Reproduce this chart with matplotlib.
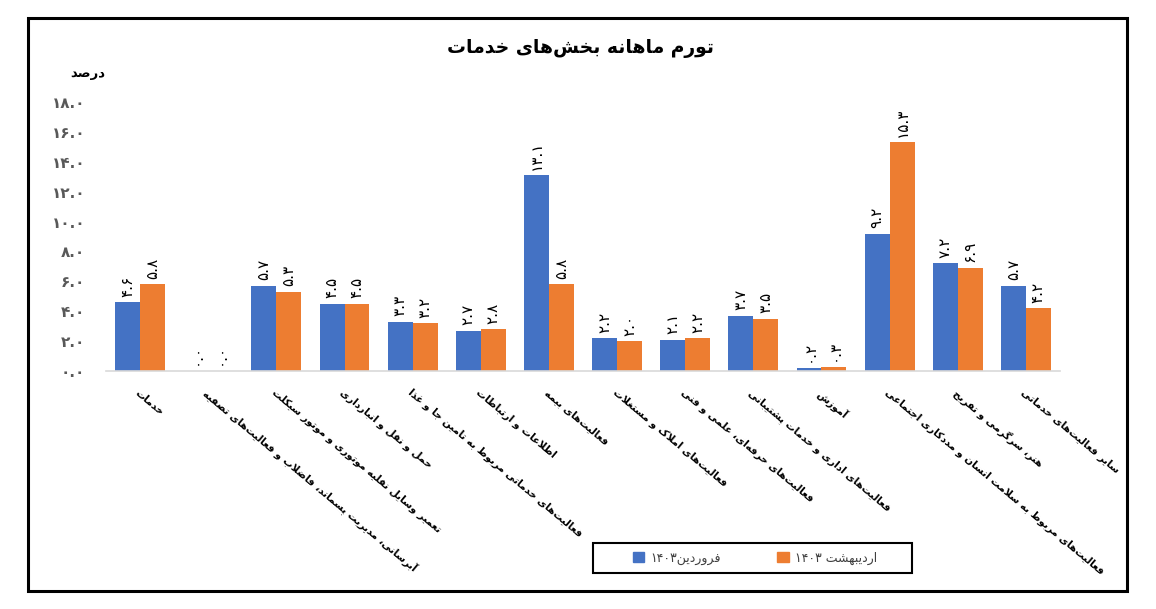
import re
import numpy as np
import matplotlib
matplotlib.use('Agg')
import matplotlib.pyplot as plt
from matplotlib.patches import Rectangle, Patch

# data
categories = [
    'خدمات',
    'آبرسانی، مدیریت پسماند، فاضلاب و فعالیت‌های تصفیه',
    'تعمیر وسایل نقلیه موتوری و موتور سیکلت',
    'حمل و نقل و انبارداری',
    'فعالیت‌های خدماتی مربوط به تامین جا و غذا',
    'اطلاعات و ارتباطات',
    'فعالیت‌های بیمه',
    'فعالیت‌های املاک و مستغلات',
    'فعالیت‌های حرفه‌ای، علمی و فنی',
    'فعالیت‌های اداری و خدمات پشتیبانی',
    'آموزش',
    'فعالیت‌های مربوط به سلامت انسان و مددکاری اجتماعی',
    'هنر، سرگرمی و تفریح',
    'سایر فعالیت‌های خدماتی',
]
farvardin = [4.6, 0.0, 5.7, 4.5, 3.3, 2.7, 13.1, 2.2, 2.1, 3.7, 0.2, 9.2, 7.2, 5.7]
ordibehesht = [5.8, 0.0, 5.3, 4.5, 3.2, 2.8, 5.8, 2.0, 2.2, 3.5, 0.3, 15.3, 6.9, 4.2]
series_names = ['فروردین۱۴۰۳', 'اردیبهشت ۱۴۰۳']
yticks = [0, 2, 4, 6, 8, 10, 12, 14, 16, 18]
title = 'تورم ماهانه بخش‌های خدمات'
unit = 'درصد'

# minimal arabic/persian shaping, matplotlib has no bidi support
FORMS = {
    'ء': (0xFE80, None, None, None),
    'آ': (0xFE81, 0xFE82, None, None),
    'أ': (0xFE83, 0xFE84, None, None),
    'ؤ': (0xFE85, 0xFE86, None, None),
    'إ': (0xFE87, 0xFE88, None, None),
    'ئ': (0xFE89, 0xFE8A, 0xFE8B, 0xFE8C),
    'ا': (0xFE8D, 0xFE8E, None, None),
    'ب': (0xFE8F, 0xFE90, 0xFE91, 0xFE92),
    'پ': (0xFB56, 0xFB57, 0xFB58, 0xFB59),
    'ة': (0xFE93, 0xFE94, None, None),
    'ت': (0xFE95, 0xFE96, 0xFE97, 0xFE98),
    'ث': (0xFE99, 0xFE9A, 0xFE9B, 0xFE9C),
    'ج': (0xFE9D, 0xFE9E, 0xFE9F, 0xFEA0),
    'چ': (0xFB7A, 0xFB7B, 0xFB7C, 0xFB7D),
    'ح': (0xFEA1, 0xFEA2, 0xFEA3, 0xFEA4),
    'خ': (0xFEA5, 0xFEA6, 0xFEA7, 0xFEA8),
    'د': (0xFEA9, 0xFEAA, None, None),
    'ذ': (0xFEAB, 0xFEAC, None, None),
    'ر': (0xFEAD, 0xFEAE, None, None),
    'ز': (0xFEAF, 0xFEB0, None, None),
    'ژ': (0xFB8A, 0xFB8B, None, None),
    'س': (0xFEB1, 0xFEB2, 0xFEB3, 0xFEB4),
    'ش': (0xFEB5, 0xFEB6, 0xFEB7, 0xFEB8),
    'ص': (0xFEB9, 0xFEBA, 0xFEBB, 0xFEBC),
    'ض': (0xFEBD, 0xFEBE, 0xFEBF, 0xFEC0),
    'ط': (0xFEC1, 0xFEC2, 0xFEC3, 0xFEC4),
    'ظ': (0xFEC5, 0xFEC6, 0xFEC7, 0xFEC8),
    'ع': (0xFEC9, 0xFECA, 0xFECB, 0xFECC),
    'غ': (0xFECD, 0xFECE, 0xFECF, 0xFED0),
    'ف': (0xFED1, 0xFED2, 0xFED3, 0xFED4),
    'ق': (0xFED5, 0xFED6, 0xFED7, 0xFED8),
    'ك': (0xFED9, 0xFEDA, 0xFEDB, 0xFEDC),
    'ک': (0xFB8E, 0xFB8F, 0xFB90, 0xFB91),
    'گ': (0xFB92, 0xFB93, 0xFB94, 0xFB95),
    'ل': (0xFEDD, 0xFEDE, 0xFEDF, 0xFEE0),
    'م': (0xFEE1, 0xFEE2, 0xFEE3, 0xFEE4),
    'ن': (0xFEE5, 0xFEE6, 0xFEE7, 0xFEE8),
    'ه': (0xFEE9, 0xFEEA, 0xFEEB, 0xFEEC),
    'و': (0xFEED, 0xFEEE, None, None),
    'ى': (0xFEEF, 0xFEF0, None, None),
    'ي': (0xFEF1, 0xFEF2, 0xFEF3, 0xFEF4),
    'ی': (0xFBFC, 0xFBFD, 0xFBFE, 0xFBFF),
}
LAM_ALEF = {'ا': (0xFEFB, 0xFEFC), 'آ': (0xFEF5, 0xFEF6),
            'أ': (0xFEF7, 0xFEF8), 'إ': (0xFEF9, 0xFEFA)}


def shape(s):
    out = []
    i = 0
    n = len(s)

    def dual(c):
        return c in FORMS and FORMS[c][2] is not None

    while i < n:
        c = s[i]
        if c not in FORMS:
            out.append(c)
            i += 1
            continue
        join_prev = i > 0 and dual(s[i - 1])
        if c == 'ل' and i + 1 < n and s[i + 1] in LAM_ALEF:
            iso, fin = LAM_ALEF[s[i + 1]]
            out.append(chr(fin if join_prev else iso))
            i += 2
            continue
        join_next = dual(c) and i + 1 < n and s[i + 1] in FORMS
        f = FORMS[c]
        if join_prev and join_next:
            g = f[3]
        elif join_prev:
            g = f[1]
        elif join_next:
            g = f[2]
        else:
            g = f[0]
        out.append(chr(g))
        i += 1
    return ''.join(out).replace('\u200c', '')


def fa(s):
    s = shape(s)
    parts = re.findall(r'[0-9\u06F0-\u06F9.]+|[^0-9\u06F0-\u06F9.]+', s)
    vis = []
    for p in reversed(parts):
        if re.match(r'[0-9\u06F0-\u06F9]', p):
            vis.append(p)
        else:
            vis.append(p[::-1])
    return ''.join(vis)


DIG = str.maketrans('0123456789', '۰۱۲۳۴۵۶۷۸۹')


def fnum(v):
    return f'{v:.1f}'.translate(DIG)


plt.rcParams['font.family'] = ['DejaVu Sans']

BLUE = '#4472C4'
ORANGE = '#ED7D31'

fig = plt.figure(figsize=(11.56, 6.09), dpi=100)
W, H = 1156, 609

# outer frame
fig.patches.append(Rectangle((28 / W, 1 - 591 / H), (1127 - 28) / W, (591 - 18) / H,
                             transform=fig.transFigure, fill=False, edgecolor='black', lw=2.2))

ax = fig.add_axes([106 / W, 1 - 371 / H, (1060 - 106) / W, (371 - 102) / H])

x = np.arange(len(categories))
bw = 0.365
b1 = ax.bar(x - bw / 2, farvardin, bw, color=BLUE)
b2 = ax.bar(x + bw / 2, ordibehesht, bw, color=ORANGE)

for bars, vals in ((b1, farvardin), (b2, ordibehesht)):
    for r, v in zip(bars, vals):
        ax.annotate(fnum(v), (r.get_x() + r.get_width() / 2, r.get_height()),
                    xytext=(0, 4), textcoords='offset points', rotation=90,
                    ha='center', va='bottom', fontsize=11, color='black')

ax.set_ylim(0, 18)
ax.set_xlim(-0.5, len(categories) - 0.5)
ax.set_yticks(yticks)
ax.set_yticklabels([fnum(t) for t in yticks], fontsize=11, fontweight='bold', color='#595959')
ax.set_xticks(x)
ax.set_xticklabels([fa(c) for c in categories], rotation=-40, ha='left',
                   rotation_mode='anchor', fontsize=7.4, fontweight='bold')
ax.tick_params(axis='both', length=0)
ax.tick_params(axis='y', pad=15)
ax.tick_params(axis='x', pad=12)
for side in ('top', 'right', 'left'):
    ax.spines[side].set_visible(False)
ax.spines['bottom'].set_color('#D9D9D9')
ax.spines['bottom'].set_linewidth(1.2)

fig.text(580 / W, 1 - 49 / H, fa(title), ha='center', va='center', fontsize=13.5, fontweight='bold')
fig.text(88 / W, 1 - 73 / H, fa(unit), ha='center', va='center', fontsize=9.5, fontweight='bold')

# legend: frame drawn separately so it can be wider than the entries
fig.patches.append(Rectangle((593 / W, 1 - 573 / H), (912 - 593) / W, 30 / H,
                             transform=fig.transFigure, fill=False, edgecolor='black', lw=1.5))
handles = [Patch(color=BLUE), Patch(color=ORANGE)]
leg = fig.legend(handles, [fa(n) for n in series_names], loc='center', ncol=2,
                 bbox_to_anchor=(755 / W, 1 - 558 / H), fontsize=9,
                 handlelength=0.9, handleheight=0.9, handletextpad=0.5,
                 columnspacing=4.5, frameon=False)
for t in leg.get_texts():
    t.set_color('#404040')

fig.savefig('out.png', dpi=100)
